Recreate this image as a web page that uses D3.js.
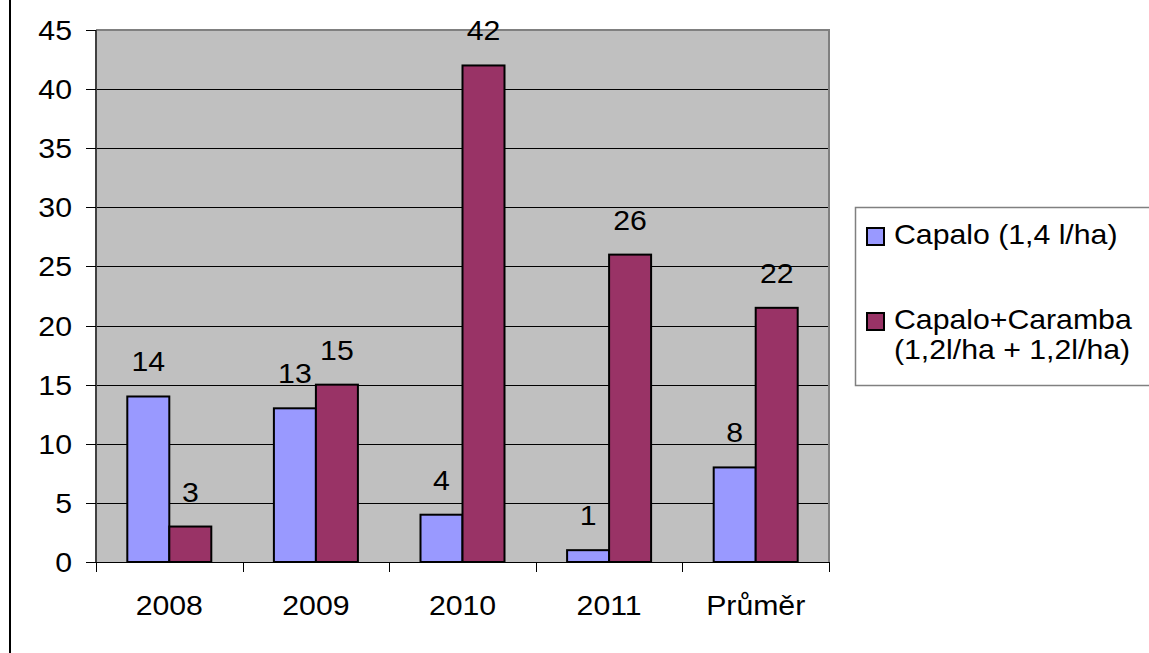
<!DOCTYPE html>
<html>
<head>
<meta charset="utf-8">
<script src="https://cdn.jsdelivr.net/npm/d3@7"></script>
<style>
  html, body { margin: 0; padding: 0; background: #fff; }
  svg text { font-family: "Liberation Sans", Arial, sans-serif; fill: #000; }
</style>
</head>
<body>
<svg id="chart" width="1149" height="653"></svg>
<script>
// data
const categories = ["2008", "2009", "2010", "2011", "Průměr"];
const capalo = [14, 13, 4, 1, 8];
const capaloCaramba = [3, 15, 42, 26, 21.5];
const seriesNames = ["Capalo (1,4 l/ha)", ["Capalo+Caramba", "(1,2l/ha + 1,2l/ha)"]];
const yTicks = [0, 5, 10, 15, 20, 25, 30, 35, 40, 45];

const colors = ["#9999FF", "#993366"];
const FONT = 28;
const STRETCH = 1.08; // the original text is a bit wider than plain Arial

const svg = d3.select("#chart");

// plot area
const plot = { left: 96, right: 829, top: 30, bottom: 562 };

const x = d3.scaleBand()
  .domain(categories)
  .range([plot.left, plot.right])
  .paddingInner(0)
  .paddingOuter(0);

const y = d3.scaleLinear()
  .domain([0, 45])
  .range([plot.bottom, plot.top]);

// outer frame (only left edge visible)
svg.append("rect")
  .attr("x", 9).attr("y", 0)
  .attr("width", 2).attr("height", 653)
  .attr("fill", "#000");

// helper for stretched text
function stext(g, tx, ty, str, anchor) {
  return g.append("text")
    .attr("transform", "translate(" + tx + "," + ty + ") scale(" + STRETCH + ",1)")
    .attr("text-anchor", anchor || "start")
    .attr("font-size", FONT + "px")
    .text(str);
}

// background
svg.append("rect")
  .attr("x", plot.left).attr("y", plot.top)
  .attr("width", plot.right - plot.left)
  .attr("height", plot.bottom - plot.top)
  .attr("fill", "#C0C0C0");

// gridlines
svg.append("g")
  .selectAll("line")
  .data(yTicks.filter(d => d > 0 && d < 45))
  .enter().append("line")
  .attr("x1", plot.left).attr("x2", plot.right)
  .attr("y1", d => Math.round(y(d)) + 0.5)
  .attr("y2", d => Math.round(y(d)) + 0.5)
  .attr("stroke", "#000")
  .attr("stroke-width", 1);

// plot border top/right
svg.append("path")
  .attr("d", `M${plot.left},${plot.top} L${plot.right},${plot.top} L${plot.right},${plot.bottom}`)
  .attr("fill", "none")
  .attr("stroke", "#808080")
  .attr("stroke-width", 2);

// bars
const barW = 42;
const series = [capalo, capaloCaramba];
series.forEach(function(vals, si) {
  const g = svg.append("g");
  g.selectAll("rect")
    .data(vals)
    .enter().append("rect")
    .attr("x", (d, i) => x(categories[i]) + x.bandwidth() / 2 - barW + si * barW)
    .attr("y", d => y(d))
    .attr("width", barW)
    .attr("height", d => y(0) - y(d))
    .attr("fill", colors[si])
    .attr("stroke", "#000")
    .attr("stroke-width", 2);

  // value labels
  vals.forEach(function(d, i) {
    const cx = x(categories[i]) + x.bandwidth() / 2 - barW / 2 + si * barW;
    stext(svg, cx, y(d) - 25, Math.round(d), "middle");
  });
});

// y axis
const yAxis = svg.append("g");
yAxis.append("line")
  .attr("x1", plot.left).attr("x2", plot.left)
  .attr("y1", plot.top).attr("y2", plot.bottom)
  .attr("stroke", "#404040").attr("stroke-width", 2);
yTicks.forEach(function(t) {
  const ty = Math.round(y(t)) + 0.5;
  yAxis.append("line")
    .attr("x1", 86).attr("x2", plot.left)
    .attr("y1", ty).attr("y2", ty)
    .attr("stroke", "#000");
  stext(yAxis, 72, y(t) + 10, t, "end");
});

// x axis
const xAxis = svg.append("g");
xAxis.append("line")
  .attr("x1", 86).attr("x2", plot.right)
  .attr("y1", plot.bottom + 0.5).attr("y2", plot.bottom + 0.5)
  .attr("stroke", "#000");
categories.concat(["end"]).forEach(function(c, i) {
  const tx = (i < categories.length ? x(c) : plot.right);
  xAxis.append("line")
    .attr("x1", Math.round(tx) + 0.5).attr("x2", Math.round(tx) + 0.5)
    .attr("y1", plot.bottom).attr("y2", plot.bottom + 10)
    .attr("stroke", "#000");
});
categories.forEach(function(c) {
  stext(xAxis, x(c) + x.bandwidth() / 2, 615, c, "middle");
});

// legend
const legend = svg.append("g");
legend.append("rect")
  .attr("x", 855.5).attr("y", 207.5)
  .attr("width", 320).attr("height", 178)
  .attr("fill", "#fff")
  .attr("stroke", "#808080")
  .attr("stroke-width", 1.5);

const legendY = [236, 321];
seriesNames.forEach(function(name, i) {
  legend.append("rect")
    .attr("x", 867).attr("y", legendY[i] - 8)
    .attr("width", 17).attr("height", 17)
    .attr("fill", colors[i])
    .attr("stroke", "#000")
    .attr("stroke-width", 2);
  const lines = Array.isArray(name) ? name : [name];
  lines.forEach(function(line, k) {
    stext(legend, 894, legendY[i] + 8 + k * 30, line, "start");
  });
});
</script>
</body>
</html>
